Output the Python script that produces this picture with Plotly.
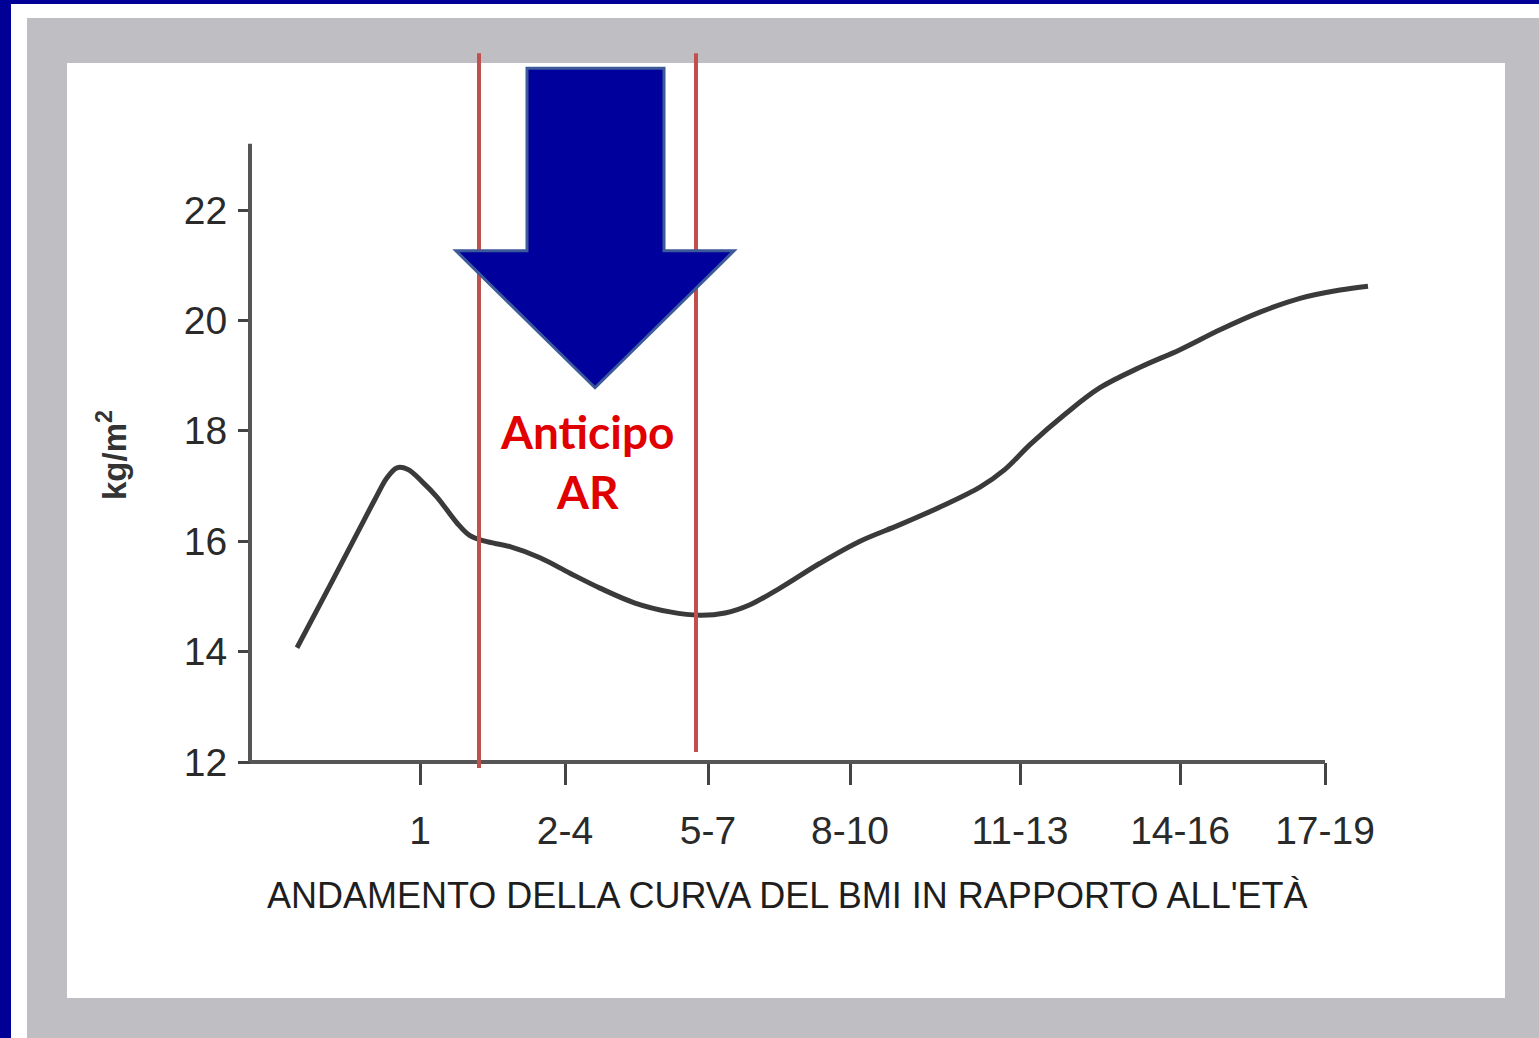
import plotly.graph_objects as go

# Age classes on the x axis and where each sits along the axis
age_labels = ["1", "2-4", "5-7", "8-10", "11-13", "14-16", "17-19"]
age_pos = [170, 315, 458, 600, 770, 930, 1075]

# BMI-for-age curve (kg/m²)
curve_x = [47, 80, 110, 125, 137, 147, 158, 172, 187, 207, 220, 235, 260, 290,
           320, 350, 385, 420, 450, 475, 500, 530, 570, 610, 650, 690, 730, 755,
           780, 815, 850, 890, 930, 970, 1010, 1050, 1090, 1118]
curve_bmi = [14.07, 15.2, 16.24, 16.76, 17.15, 17.33, 17.3, 17.08, 16.8, 16.33,
             16.1, 16.0, 15.9, 15.7, 15.42, 15.15, 14.88, 14.72, 14.66, 14.7,
             14.85, 15.15, 15.6, 16.0, 16.3, 16.62, 16.98, 17.3, 17.75, 18.3,
             18.78, 19.15, 19.47, 19.83, 20.15, 20.4, 20.55, 20.62]

# y axis ticks
bmi_ticks = [12, 14, 16, 18, 20, 22]

# Window of the early adiposity rebound
ar_window = [229, 446]

W, H = 1539, 1038


def px(x):
    return x / W


def py(y):
    return 1 - y / H


fig = go.Figure()

fig.add_trace(go.Scatter(
    x=curve_x, y=curve_bmi, mode="lines",
    line=dict(color="#3a3a3a", width=5, shape="spline", smoothing=1.0),
    hoverinfo="skip", showlegend=False,
))

shapes = []
# Slide frame: navy edge, white strip, grey mat, white panel
shapes.append(dict(type="rect", xref="paper", yref="paper", x0=0, x1=1, y0=0, y1=1,
                   fillcolor="#000096", line=dict(width=0), layer="below"))
shapes.append(dict(type="rect", xref="paper", yref="paper", x0=px(11), x1=1, y0=0, y1=py(4),
                   fillcolor="#ffffff", line=dict(width=0), layer="below"))
shapes.append(dict(type="rect", xref="paper", yref="paper", x0=px(27), x1=1, y0=0, y1=py(18),
                   fillcolor="#bfbfc3", line=dict(width=0), layer="below"))
shapes.append(dict(type="rect", xref="paper", yref="paper", x0=px(67), x1=px(1505), y0=py(998), y1=py(63),
                   fillcolor="#ffffff", line=dict(width=0), layer="below"))

# Axis lines
shapes.append(dict(type="line", xref="x", yref="y", x0=0, x1=0, y0=12, y1=23.2,
                   line=dict(color="#555555", width=4)))
shapes.append(dict(type="line", xref="x", yref="y", x0=0, x1=age_pos[-1], y0=12, y1=12,
                   line=dict(color="#555555", width=4)))

# Red lines bounding the rebound window
shapes.append(dict(type="line", xref="x", yref="y", x0=ar_window[0], x1=ar_window[0],
                   y0=11.89, y1=24.84, line=dict(color="#c0504d", width=4)))
shapes.append(dict(type="line", xref="x", yref="y", x0=ar_window[1], x1=ar_window[1],
                   y0=12.18, y1=24.84, line=dict(color="#c0504d", width=4)))

# Big downward arrow
arrow = [(277, 24.57), (414, 24.57), (414, 21.26), (484, 21.26),
         (345, 18.78), (206, 21.26), (277, 21.26)]
path = "M " + " L ".join(f"{x},{y}" for x, y in arrow) + " Z"
shapes.append(dict(type="path", xref="x", yref="y", path=path,
                   fillcolor="#00009c", line=dict(color="#3c5a9a", width=3)))

tick_font = dict(family="Liberation Sans, Arial, sans-serif", size=39, color="#2a2a2a")

fig.update_layout(
    width=W, height=H,
    margin=dict(l=0, r=0, t=0, b=0),
    paper_bgcolor="#ffffff",
    plot_bgcolor="rgba(0,0,0,0)",
    shapes=shapes,
    xaxis=dict(
        domain=[px(200), px(1420)], range=[-50, 1170],
        anchor="free", position=py(762),
        showgrid=False, zeroline=False, showline=False,
        tickmode="array", tickvals=age_pos, ticktext=age_labels,
        ticks="outside", ticklen=22, tickwidth=3, tickcolor="#444444",
        ticklabelstandoff=12,
        tickfont=tick_font,
    ),
    yaxis=dict(
        domain=[py(800), py(30)], range=[12 - 38 / 55.2, 12 + 732 / 55.2],
        anchor="free", position=px(250),
        showgrid=False, zeroline=False, showline=False,
        tickmode="array", tickvals=bmi_ticks,
        ticks="outside", ticklen=12, tickwidth=3, tickcolor="#444444",
        ticklabelstandoff=3,
        tickfont=tick_font,
    ),
    annotations=[
        dict(text="<b>Anticipo</b><br><b>AR</b>", x=337, y=17.45, xref="x", yref="y",
             showarrow=False, font=dict(family="Lato, sans-serif", size=46, color="#e00000")),
        dict(text="ANDAMENTO DELLA CURVA DEL BMI IN RAPPORTO ALL'ETÀ",
             x=px(787), y=py(895), xref="paper", yref="paper", showarrow=False,
             xanchor="center", yanchor="middle",
             font=dict(family="Liberation Sans, Arial, sans-serif", size=36, color="#1e1e1e")),
        dict(text="<b>kg/m<sup>2</sup></b>", x=px(112), y=py(455), xref="paper", yref="paper",
             showarrow=False, textangle=-90, xanchor="center", yanchor="middle",
             font=dict(family="Liberation Sans, Arial, sans-serif", size=33, color="#333333")),
    ],
)

fig.write_html("out.html")
